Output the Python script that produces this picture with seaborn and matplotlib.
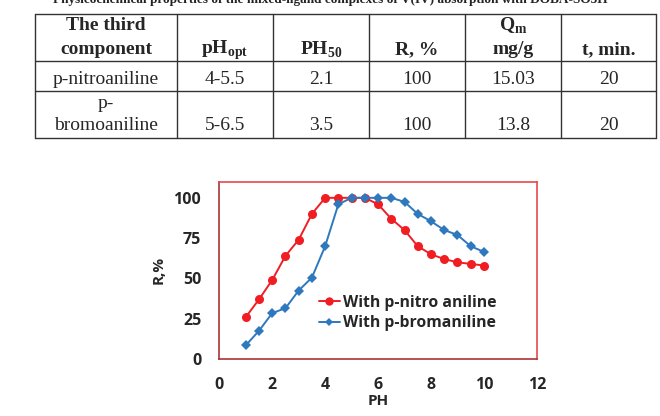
import pandas as pd
import numpy as np
import matplotlib.pyplot as plt
import seaborn as sns
from matplotlib.lines import Line2D

sns.set_theme(style="white")
plt.rcParams['font.family'] = 'sans-serif'
plt.rcParams['mathtext.fontset'] = 'custom'
plt.rcParams['mathtext.rm'] = 'Liberation Serif:bold'

# --- data ---
ph = [1, 1.5, 2, 2.5, 3, 3.5, 4, 4.5, 5, 5.5, 6, 6.5, 7, 7.5, 8, 8.5, 9, 9.5, 10]
r_nitro = [26, 37, 49, 64, 74, 90, 100, 100, 100, 100, 96, 87, 80, 70, 65, 62, 60, 59, 58]
r_bromo = [8.5, 17.5, 28.5, 31.5, 42.5, 50.5, 70, 96, 100, 100, 100, 100, 97.5, 90, 85.5, 80, 77, 70, 66.5]
series_names = ['With p-nitro aniline', 'With p-bromaniline']

caption = 'Physicochemical properties of the mixed-ligand complexes of V(IV) absorption with DOBA-SO3H'
header = [['The third', 'component'], ['', 'pH$_{\\mathrm{opt}}$'], ['', 'PH$_{\\mathrm{50}}$'],
          ['', 'R, %'], ['Q$_{\\mathrm{m}}$', 'mg/g'], ['', 't, min.']]
row1 = ['p-nitroaniline', '4-5.5', '2.1', '100', '15.03', '20']
row2 = [['p-', 'bromoaniline'], '5-6.5', '3.5', '100', '13.8', '20']

df = pd.DataFrame({
    'PH': ph * 2,
    'R': r_nitro + r_bromo,
    'series': [series_names[0]] * len(ph) + [series_names[1]] * len(ph),
})

fig = plt.figure(figsize=(6.6, 4.16), dpi=100)

# --- table drawn in pixel space ---
tab = fig.add_axes([0, 0, 1, 1])
tab.set_xlim(0, 660)
tab.set_ylim(416, 0)
tab.axis('off')
col_x = [35, 177, 273, 369, 465, 561, 656]
row_y = [13.5, 61, 91, 138]
for x in col_x:
    tab.plot([x, x], [row_y[0], row_y[-1]], color='#333333', lw=1.0)
for y in row_y:
    tab.plot([col_x[0], col_x[-1]], [y, y], color='#333333', lw=1.0)

serif = 'Liberation Serif'
fs = 14
# caption is cut off by the top edge in the source image
tab.text(330, 0, caption, ha='center', va='center', family=serif, fontweight='bold',
         fontsize=9.5, color='#222222')
for i, (top, bot) in enumerate(header):
    cx = (col_x[i] + col_x[i + 1]) / 2
    if top:
        tab.text(cx, 26, top, ha='center', va='center', family=serif, fontweight='bold', fontsize=fs)
    tab.text(cx, 50, bot, ha='center', va='center', family=serif, fontweight='bold', fontsize=fs)
for i, val in enumerate(row1):
    cx = (col_x[i] + col_x[i + 1]) / 2
    tab.text(cx, 79, val, ha='center', va='center', family=serif, fontsize=fs)
for i, val in enumerate(row2):
    cx = (col_x[i] + col_x[i + 1]) / 2
    if isinstance(val, list):
        tab.text(cx, 104, val[0], ha='center', va='center', family=serif, fontsize=fs)
        val = val[1]
    tab.text(cx, 126, val, ha='center', va='center', family=serif, fontsize=fs)

# --- chart ---
ax = fig.add_axes([0.3323, 0.137, 0.481, 0.4262])
red = '#F01E23'
blue = '#2E78BE'
sns.lineplot(data=df[df['series'] == series_names[0]], x='PH', y='R', ax=ax, color=red,
             marker='o', markersize=6.5, markeredgewidth=0, linewidth=1.4)
sns.lineplot(data=df[df['series'] == series_names[1]], x='PH', y='R', ax=ax, color=blue,
             marker='D', markersize=4.8, markeredgewidth=0, linewidth=1.4)

ax.set_xlim(0, 12)
ax.set_ylim(0, 110)
ax.set_xticks(range(0, 13, 2))
ax.set_yticks([0, 25, 50, 75, 100])
for side in ['top', 'right']:
    ax.spines[side].set_color('#E8494D')
    ax.spines[side].set_linewidth(1.2)
for side in ['left', 'bottom']:
    ax.spines[side].set_color('#A83535')
    ax.spines[side].set_linewidth(1.2)
ax.tick_params(axis='both', direction='in', length=5, width=0.8, color='#777777',
               labelsize=11.5, pad=13)
for lab in ax.get_xticklabels() + ax.get_yticklabels():
    lab.set_fontweight('bold')
    lab.set_family('Open Sans')
ax.set_xlabel('PH', fontsize=11, fontweight='bold', family='Open Sans', labelpad=1)
ax.set_ylabel('R,%', fontsize=11, fontweight='bold', family='Open Sans', labelpad=6)

handles = [
    Line2D([], [], color=red, marker='o', markersize=6, markeredgewidth=0, lw=1.4),
    Line2D([], [], color=blue, marker='D', markersize=4.5, markeredgewidth=0, lw=1.4),
]
ax.legend(handles, series_names, loc='center left', bbox_to_anchor=(0.29, 0.26), frameon=False,
          prop={'family': 'Open Sans', 'weight': 'bold', 'size': 11.3}, handlelength=1.3,
          handletextpad=0.2, labelspacing=0.3, borderpad=0)

fig.savefig('out.png', dpi=100)
